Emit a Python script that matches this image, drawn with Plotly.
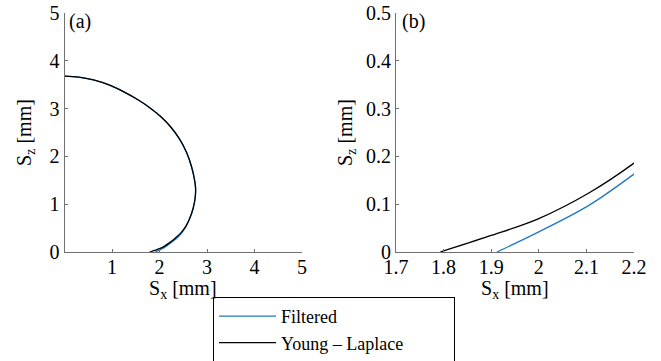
import plotly.graph_objects as go

# Young-Laplace profile, apex -> contact line
yl_x = [0.0, 0.30, 0.61, 0.95, 1.25, 1.52, 1.78, 2.03, 2.25, 2.43, 2.57, 2.67, 2.73, 2.76, 2.75, 2.71, 2.64, 2.55, 2.45, 2.33, 2.20, 2.106, 2.00, 1.895, 1.793]
yl_z = [3.68, 3.66, 3.60, 3.49, 3.35, 3.20, 3.03, 2.83, 2.60, 2.35, 2.08, 1.80, 1.55, 1.33, 1.13, 0.92, 0.71, 0.53, 0.40, 0.29, 0.186, 0.124, 0.070, 0.033, 0.0]

# Filtered profile
fl_x = [0.0, 0.30, 0.61, 0.95, 1.25, 1.52, 1.78, 2.03, 2.25, 2.43, 2.57, 2.67, 2.73, 2.76, 2.75, 2.71, 2.64, 2.555, 2.46, 2.35, 2.20, 2.106, 2.00, 1.912]
fl_z = [3.68, 3.66, 3.60, 3.49, 3.35, 3.20, 3.03, 2.83, 2.60, 2.35, 2.08, 1.80, 1.55, 1.33, 1.13, 0.92, 0.71, 0.53, 0.39, 0.275, 0.163, 0.098, 0.042, 0.0]

left_xticks = [1, 2, 3, 4, 5]
left_yticks = [0, 1, 2, 3, 4, 5]
right_xticks = [1.7, 1.8, 1.9, 2.0, 2.1, 2.2]
right_xtext = ["1.7", "1.8", "1.9", "2", "2.1", "2.2"]
right_yticks = [0, 0.1, 0.2, 0.3, 0.4, 0.5]
right_ytext = ["0", "0.1", "0.2", "0.3", "0.4", "0.5"]

BLUE = "#1f77c4"
BLACK = "#000000"
AX = "#707070"
FONT = "Liberation Serif"
FS = 20
PAD = "\u00a0" * 10

fig = go.Figure()
for xa, ya, show in [("x", "y", True), ("x2", "y2", False)]:
    fig.add_trace(go.Scatter(x=fl_x, y=fl_z, mode="lines", name="Filtered",
                             line=dict(color=BLUE, width=1.3, shape="spline", smoothing=1.0),
                             xaxis=xa, yaxis=ya, showlegend=show))
    fig.add_trace(go.Scatter(x=yl_x, y=yl_z, mode="lines", name="Young \u2013 Laplace" + PAD,
                             line=dict(color=BLACK, width=1.3, shape="spline", smoothing=1.0),
                             xaxis=xa, yaxis=ya, showlegend=show))

W, H = 661, 361
def fx(p): return p / W
def fy(p): return 1 - p / H

axcommon = dict(showline=True, linecolor=AX, linewidth=1, ticks="inside", ticklen=3,
                tickcolor=AX, showgrid=False, zeroline=False, mirror=False,
                automargin=False,
                tickfont=dict(family=FONT, size=FS, color="black"))

fig.update_layout(
    width=W, height=H, margin=dict(l=0, r=0, t=0, b=0, autoexpand=False),
    paper_bgcolor="white", plot_bgcolor="white",
    font=dict(family=FONT, size=FS, color="black"),
    xaxis=dict(domain=[fx(64.5), fx(302)], range=[0, 5], tickvals=left_xticks,
               ticklabelstandoff=-3, anchor="y", **axcommon),
    yaxis=dict(domain=[fy(252), fy(13)], range=[0, 5], tickvals=left_yticks,
               title=dict(text="S<sub>z</sub> [mm]", standoff=12, font=dict(size=FS)),
               anchor="x", **axcommon),
    xaxis2=dict(domain=[fx(396), fx(634)], range=[1.7, 2.2], tickvals=right_xticks,
                ticktext=right_xtext, ticklabelstandoff=-3,
                anchor="y2", **axcommon),
    yaxis2=dict(domain=[fy(252), fy(13)], range=[0, 0.5], tickvals=right_yticks,
                ticktext=right_ytext,
                title=dict(text="S<sub>z</sub> [mm]", standoff=8, font=dict(size=FS)),
                anchor="x2", **axcommon),
    legend=dict(x=fx(213), y=fy(297), xanchor="left", yanchor="top",
                bordercolor="black", borderwidth=1, bgcolor="white",
                font=dict(family=FONT, size=18), tracegroupgap=0,
                itemwidth=57),
    showlegend=True,
)

for xc in [(64.5 + 302) / 2, (396 + 634) / 2]:
    fig.add_annotation(text="S<sub>x</sub> [mm]", x=fx(xc), y=fy(289), xref="paper", yref="paper",
                       xanchor="center", yanchor="middle", showarrow=False,
                       font=dict(family=FONT, size=FS))

fig.add_annotation(text="(a)", x=fx(67), y=fy(22), xref="paper", yref="paper",
                   xanchor="left", yanchor="middle", showarrow=False,
                   font=dict(family=FONT, size=FS))
fig.add_annotation(text="(b)", x=fx(400), y=fy(22), xref="paper", yref="paper",
                   xanchor="left", yanchor="middle", showarrow=False,
                   font=dict(family=FONT, size=FS))

fig.write_html("out.html")
